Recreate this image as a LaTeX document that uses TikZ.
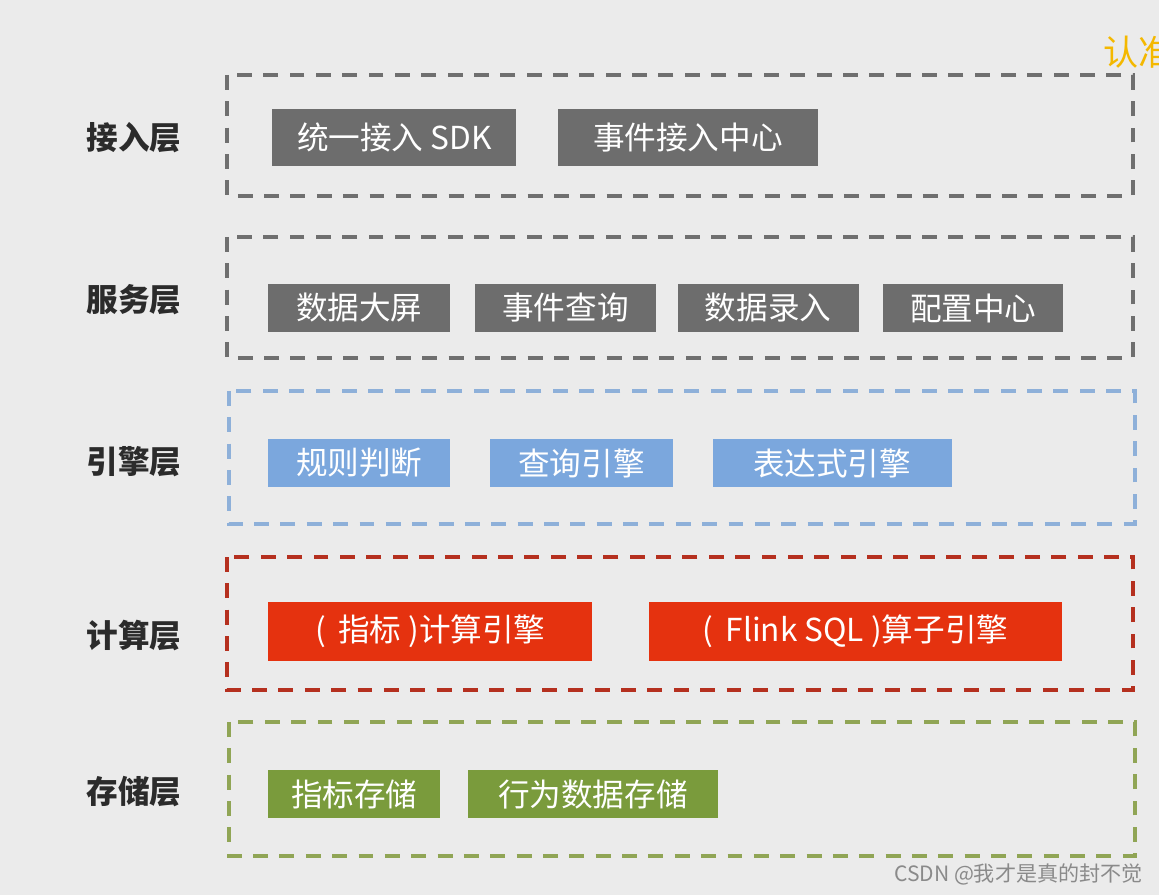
\documentclass[tikz,border=0pt]{standalone}
\usepackage{fontspec}
\setmainfont{Noto Sans CJK SC}
\usetikzlibrary{positioning}
\definecolor{bg}{HTML}{EBEBEB}
\definecolor{ink}{HTML}{2B2B2B}
\definecolor{grayblk}{HTML}{6D6D6D}
\definecolor{grayfrm}{HTML}{6F6F6F}
\definecolor{blueblk}{HTML}{7BA7DD}
\definecolor{bluefrm}{HTML}{8EB0D9}
\definecolor{redblk}{HTML}{E5320F}
\definecolor{redfrm}{HTML}{B5301F}
\definecolor{greenblk}{HTML}{7A9B3C}
\definecolor{greenfrm}{HTML}{90A555}
\definecolor{mark}{HTML}{F4B800}
\definecolor{wm}{HTML}{8A8A8A}
\tikzset{
  blk/.style={fill=#1, text=white, inner sep=0pt, anchor=west, font=\fontsize{18}{20}\selectfont},
  frm/.style={draw=#1, line width=2pt, dash pattern=on 8.5pt off 6.5pt},
  lyr/.style={font=\fontsize{18}{20}\selectfont\bfseries, text=ink},
}
\begin{document}
\begin{tikzpicture}[x=0.02cm, y=-0.02cm]
  \useasboundingbox[fill=bg] (0,0) rectangle (1159,895);
  \clip (0,0) rectangle (1159,895);
  % layer frames
  \draw[frm=grayfrm] (227,75) rectangle (1133,196);
  \draw[frm=grayfrm] (227,237) rectangle (1133,358);
  \draw[frm=bluefrm] (229,391) rectangle (1135,524);
  \draw[frm=redfrm] (227,557) rectangle (1133,690);
  \draw[frm=greenfrm] (229,722) rectangle (1135,856);
  % layer names
  \node[lyr] (ljr) at (134,138) {接入层};
  \node[lyr] (lfw) at (134,300) {服务层};
  \node[lyr] (lyq) at (134,462) {引擎层};
  \node[lyr] (ljs) at (134,636) {计算层};
  \node[lyr] (lcc) at (134,792) {存储层};
  % access
  \node[blk=grayblk, minimum width=4.88cm, minimum height=1.14cm] (sdk) at (272,137.5) {统一接入 SDK};
  \node[blk=grayblk, minimum width=5.2cm, minimum height=1.14cm, right=0.82cm of sdk] (evc) {事件接入中心};
  % service
  \node[blk=grayblk, minimum width=3.64cm, minimum height=0.98cm] (scr) at (268,308) {数据大屏};
  \node[blk=grayblk, minimum width=3.62cm, minimum height=0.98cm, right=0.48cm of scr] (qry) {事件查询};
  \node[blk=grayblk, minimum width=3.62cm, minimum height=0.98cm, right=0.42cm of qry] (inp) {数据录入};
  \node[blk=grayblk, minimum width=3.6cm, minimum height=0.98cm, right=0.48cm of inp] (cfg) {配置中心};
  % engine
  \node[blk=blueblk, minimum width=3.64cm, minimum height=0.96cm] (rul) at (268,463) {规则判断};
  \node[blk=blueblk, minimum width=3.66cm, minimum height=0.96cm, right=0.78cm of rul] (qen) {查询引擎};
  \node[blk=blueblk, minimum width=4.78cm, minimum height=0.96cm, right=0.78cm of qen] (exp) {表达式引擎};
  % compute
  \node[blk=redblk, minimum width=6.48cm, minimum height=1.18cm] (idx) at (268,631.5) {( \,指标 )计算引擎};
  \node[blk=redblk, minimum width=8.26cm, minimum height=1.18cm, right=1.12cm of idx] (flk) {( \,Flink SQL )算子引擎};
  % storage
  \node[blk=greenblk, minimum width=3.44cm, minimum height=0.96cm] (ist) at (268,794) {指标存储};
  \node[blk=greenblk, minimum width=5cm, minimum height=0.96cm, right=0.54cm of ist] (bst) {行为数据存储};
  % corner texts
  \node[anchor=west, inner sep=0pt, text=mark, font=\fontsize{20}{22}\selectfont] (rz) at (1103,52) {认准};
  \node[anchor=east, inner sep=0pt, text=wm, font=\fontsize{12}{14}\selectfont] (csdn) at (1143,874) {CSDN @我才是真的封不觉};
\end{tikzpicture}
\end{document}
